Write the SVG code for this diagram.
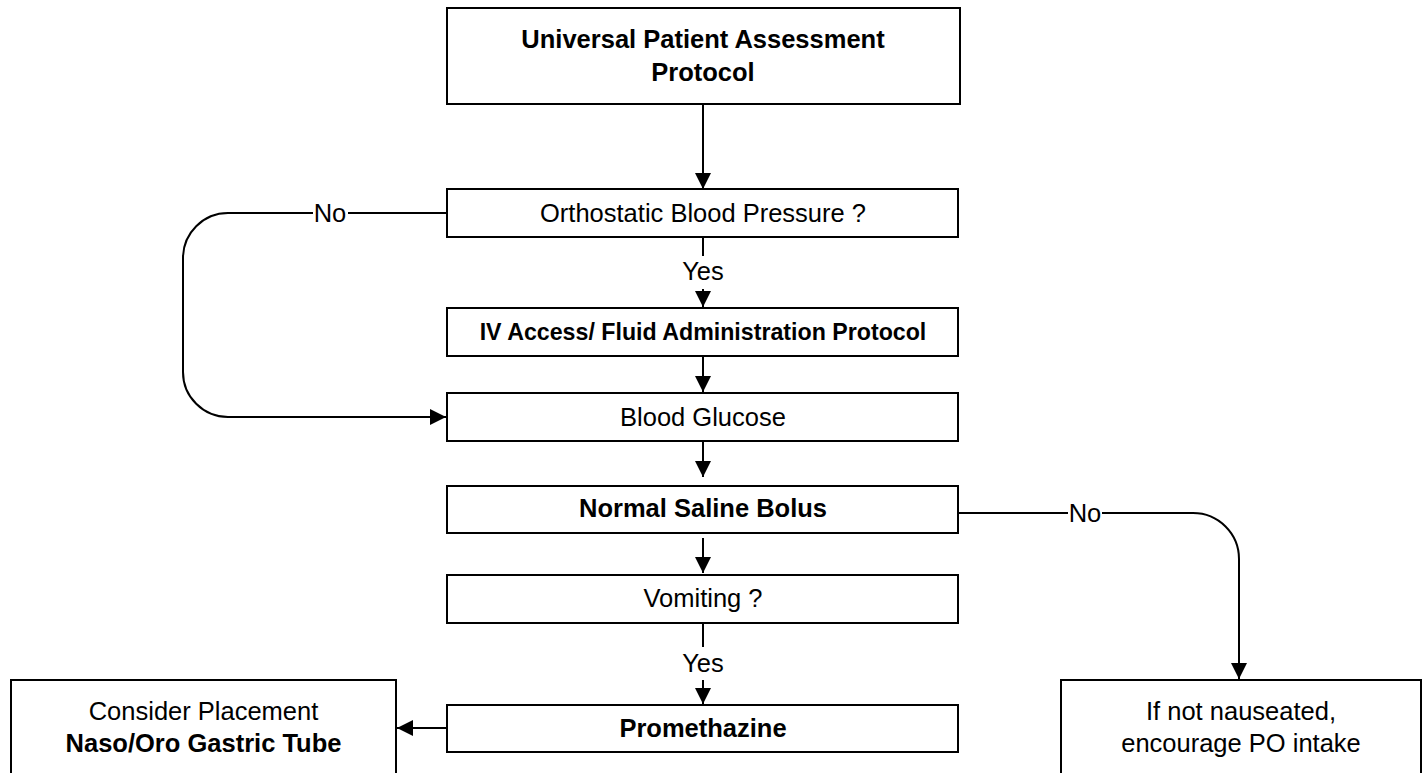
<svg xmlns="http://www.w3.org/2000/svg" width="1423" height="773" viewBox="0 0 1423 773">
  <style>
    .box { fill: #ffffff; stroke: #000000; stroke-width: 2; }
    .lbl { font-family: "Liberation Sans", Arial, sans-serif; font-size: 25.5px; fill: #000000; text-anchor: middle; }
    .b { font-weight: bold; }
    .edge { fill: none; stroke: #000000; stroke-width: 2; }
    .gap { fill: #ffffff; stroke: none; }
  </style>
  <defs>
    <marker id="arrow" viewBox="0 0 16 16" refX="16" refY="8" markerWidth="16" markerHeight="16" markerUnits="userSpaceOnUse" orient="auto">
      <path d="M0,0 L16,8 L0,16 Z" fill="#000000"/>
    </marker>
  </defs>
  <rect width="1423" height="773" fill="#ffffff"/>

  <g id="connectors">
    <!-- main spine -->
    <path class="edge" d="M703,104 V189" marker-end="url(#arrow)"/>
    <path class="edge" d="M703,237 V256"/>
    <path class="edge" d="M703,289 V307" marker-end="url(#arrow)"/>
    <path class="edge" d="M703,356 V392" marker-end="url(#arrow)"/>
    <path class="edge" d="M703,441 V477" marker-end="url(#arrow)"/>
    <path class="edge" d="M703,538 V573" marker-end="url(#arrow)"/>
    <path class="edge" d="M703,623 V647"/>
    <path class="edge" d="M703,680 V704" marker-end="url(#arrow)"/>
    <!-- side branches -->
    <path class="edge" d="M447,213 H228 A45,45 0 0 0 183,258 V372 A45,45 0 0 0 228,417 H446" marker-end="url(#arrow)"/>
    <path class="edge" d="M958,513 H1193 A46,46 0 0 1 1239,559 V679" marker-end="url(#arrow)"/>
    <path class="edge" d="M447,728 H397" marker-end="url(#arrow)"/>
    <!-- branch labels -->
    <rect class="gap" x="313" y="200" width="35" height="26"/>
    <text class="lbl" x="330" y="222">No</text>
    <rect class="gap" x="1068" y="500" width="34" height="26"/>
    <text class="lbl" x="1085" y="522">No</text>
    <text class="lbl" x="703" y="280">Yes</text>
    <text class="lbl" x="703" y="672">Yes</text>
  </g>

  <g id="assessment">
    <rect class="box" x="447" y="8" width="513" height="96"/>
    <text class="lbl b" x="703" y="48">Universal Patient Assessment</text>
    <text class="lbl b" x="703" y="81">Protocol</text>
  </g>

  <g id="orthostatic">
    <rect class="box" x="447" y="189" width="511" height="48"/>
    <text class="lbl" x="703" y="222">Orthostatic Blood Pressure ?</text>
  </g>

  <g id="iv-access">
    <rect class="box" x="447" y="308" width="511" height="48"/>
    <text class="lbl b" x="703" y="340" style="font-size:23.2px">IV Access/ Fluid Administration Protocol</text>
  </g>

  <g id="glucose">
    <rect class="box" x="447" y="393" width="511" height="48"/>
    <text class="lbl" x="703" y="426">Blood Glucose</text>
  </g>

  <g id="saline">
    <rect class="box" x="447" y="486" width="511" height="47"/>
    <text class="lbl b" x="703" y="517">Normal Saline Bolus</text>
  </g>

  <g id="vomiting">
    <rect class="box" x="447" y="575" width="511" height="48"/>
    <text class="lbl" x="703" y="607">Vomiting ?</text>
  </g>

  <g id="promethazine">
    <rect class="box" x="447" y="705" width="511" height="47"/>
    <text class="lbl b" x="703" y="737">Promethazine</text>
  </g>

  <g id="gastric-tube">
    <rect class="box" x="11" y="680" width="385" height="110"/>
    <text class="lbl" x="203.5" y="720">Consider Placement</text>
    <text class="lbl b" x="203.5" y="752">Naso/Oro Gastric Tube</text>
  </g>

  <g id="po-intake">
    <rect class="box" x="1061" y="680" width="360" height="110"/>
    <text class="lbl" x="1241" y="720">If not nauseated,</text>
    <text class="lbl" x="1241" y="752">encourage PO intake</text>
  </g>
</svg>
